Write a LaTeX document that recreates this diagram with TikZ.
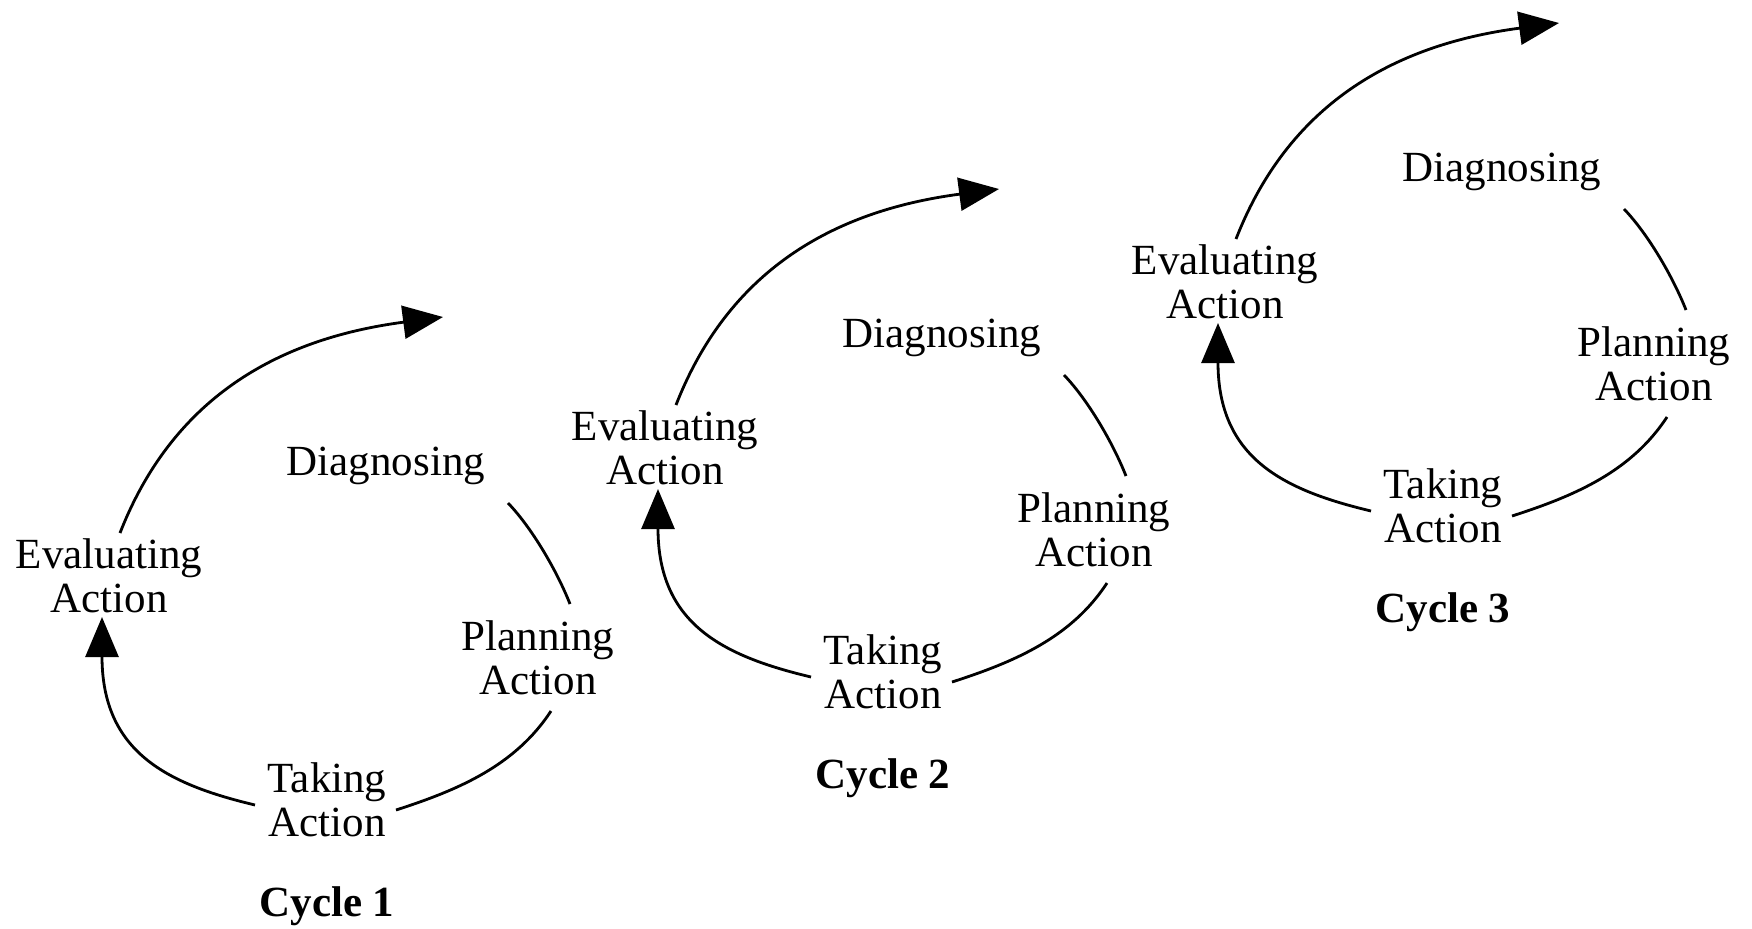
\documentclass[tikz,border=0pt]{standalone}
\usepackage{fontspec}
\setmainfont{Liberation Serif}
\usetikzlibrary{arrows.meta}
\newcommand\twolines[2]{{\setlength{\tabcolsep}{0pt}\renewcommand{\arraystretch}{1}\begin{tabular}[t]{c}#1\\#2\end{tabular}}}
\tikzset{
  lbl/.style={anchor=base, inner sep=0pt, font=\fontsize{21.5pt}{22pt}\selectfont},
  cyclbl/.style={lbl, font=\fontsize{21.5pt}{22pt}\selectfont\bfseries},
  flow/.style={line width=1.4pt, black},
  flowarrow/.style={flow, -{Triangle[length=20pt,width=16.5pt]}},
}
\newcommand\drawcycle[3]{%
  \begin{scope}[shift={(#1,#2)}]
    \node[lbl] (e#3) at (109,568) {\twolines{Evaluating}{Action}};
    \node[lbl] (d#3) at (386,475) {Diagnosing};
    \node[lbl] (p#3) at (538,650) {\twolines{Planning}{Action}};
    \node[lbl] (t#3) at (327,792) {\twolines{Taking}{Action}};
    \node[cyclbl] (c#3) at (327,916) {Cycle #3};
    \coordinate (tip#3) at (443,317);
    \draw[flowarrow] ([shift={(11,-35)}]e#3.base) .. controls +(52,-133) and +(-168,22) .. (tip#3);
    \draw[flow] ([shift={(122,28)}]d#3.base) .. controls +(24,25) and +(-13,-33) .. ([shift={(32,-46)}]p#3.base);
    \draw[flow] ([shift={(13,61)}]p#3.base) .. controls +(-36,55) and +(62,-20) .. ([shift={(69,18)}]t#3.base);
    \draw[flowarrow] ([shift={(-72,13)}]t#3.base) .. controls +(-88,-21) and +(0,135) .. ([shift={(-7,49)}]e#3.base);
  \end{scope}%
}
\begin{document}
\begin{tikzpicture}[x=0.5pt,y=-0.5pt]
  \useasboundingbox (0,0) rectangle (1752,928);
  \fill[white] (0,0) rectangle (1752,928);
  \drawcycle{0}{0}{1}
  \drawcycle{556}{-128}{2}
  \drawcycle{1116}{-294}{3}
\end{tikzpicture}
\end{document}
